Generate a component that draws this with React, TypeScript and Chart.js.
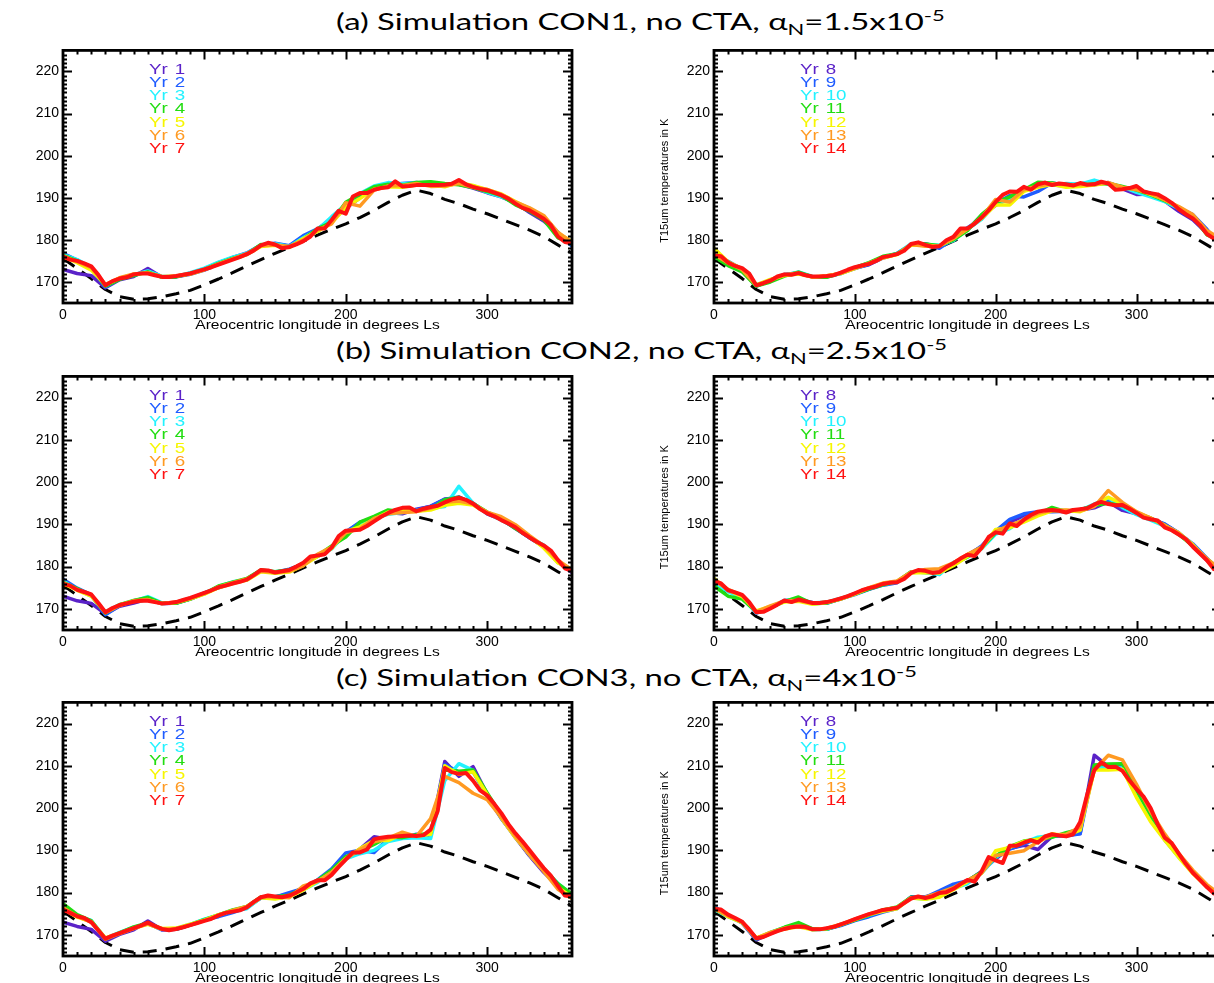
import React, { useEffect, useRef } from "react";
import { Chart, registerables } from "chart.js";
Chart.register(...registerables);

// ---------- axes / categories ----------
const LS10 = [0, 10, 20, 30, 40, 50, 60, 70, 80, 90, 100, 110, 120, 130, 140, 150, 160, 170, 180, 190, 200, 210, 220, 230, 240, 250, 260, 270, 280, 290, 300, 310, 320, 330, 340, 350, 360];
const LS5 = [0, 5, 10, 15, 20, 25, 30, 35, 40, 45, 50, 55, 60, 65, 70, 75, 80, 85, 90, 95, 100, 105, 110, 115, 120, 125, 130, 135, 140, 145, 150, 155, 160, 165, 170, 175, 180, 185, 190, 195, 200, 205, 210, 215, 220, 225, 230, 235, 240, 245, 250, 255, 260, 265, 270, 275, 280, 285, 290, 295, 300, 305, 310, 315, 320, 325, 330, 335, 340, 345, 350, 355, 360];
const X_MIN = 0, X_MAX = 360, Y_MIN = 165, Y_MAX = 225;
const X_TICKS = [0, 100, 200, 300];
const Y_TICKS = [170, 180, 190, 200, 210, 220];
const X_TITLE = "Areocentric longitude in degrees Ls";
const Y_TITLE = "T15um temperatures in K";
const YEARS_LEFT = ["1", "2", "3", "4", "5", "6", "7"];
const YEARS_RIGHT = ["8", "9", "10", "11", "12", "13", "14"];
const COLORS = ["#5a22c8", "#1f5cff", "#22f2ff", "#22dd11", "#f6f600", "#ff9a22", "#ff1212"];

// dashed reference curve (same in every panel)
const CLIM = [175.6, 173.2, 170.8, 168.2, 166.5, 165.9, 166.0, 166.5, 167.2, 168.0, 169.3, 170.7, 172.2, 173.8, 175.3, 176.8, 178.2, 179.7, 181.1, 182.5, 183.8, 185.3, 187.0, 188.9, 190.6, 191.8, 191.0, 189.6, 188.6, 187.3, 186.2, 184.9, 183.6, 182.3, 180.8, 178.8, 176.8];

// ---------- (a) CON1 ----------
const A1_Y1 = [173.0, 172.0, 171.5, 168.6, 170.5, 171.3, 173.2, 171.1, 171.2, 171.8, 172.8, 174.3, 175.6, 176.5, 178.6, 179.0, 178.5, 180.8, 182.0, 184.5, 187.5, 190.0, 192.5, 192.8, 193.2, 193.1, 193.0, 193.3, 193.2, 192.3, 191.2, 190.2, 188.8, 186.5, 184.5, 181.5, 179.0];
const A1_Y2 = [176.8, 175.2, 173.2, 168.8, 170.7, 171.6, 172.5, 171.2, 171.3, 172.1, 173.1, 174.6, 175.8, 176.9, 178.8, 179.2, 178.6, 181.0, 182.6, 185.0, 188.0, 190.6, 192.4, 192.9, 193.4, 193.6, 193.2, 193.0, 193.5, 192.8, 191.6, 190.4, 188.8, 187.3, 185.4, 181.8, 178.5];
const A1_Y3 = [176.5, 175.3, 173.5, 169.0, 170.9, 171.7, 172.6, 171.3, 171.3, 172.2, 173.3, 174.7, 175.9, 176.8, 178.7, 179.1, 178.4, 180.5, 182.4, 185.5, 188.4, 191.0, 192.8, 193.6, 193.3, 193.5, 193.7, 193.0, 193.8, 192.6, 191.3, 190.2, 188.9, 187.5, 185.2, 181.3, 178.9];
const A1_Y4 = [176.3, 175.0, 173.3, 169.0, 170.6, 171.5, 172.4, 171.1, 171.2, 172.0, 173.0, 174.4, 175.6, 176.6, 178.9, 178.8, 178.3, 180.2, 182.6, 184.2, 188.9, 190.8, 192.6, 193.2, 193.0, 193.6, 193.8, 193.4, 193.1, 192.4, 191.5, 190.5, 188.3, 186.8, 184.8, 180.5, 179.3];
const A1_Y5 = [176.0, 174.6, 172.8, 169.3, 170.9, 171.8, 172.2, 171.2, 171.4, 171.9, 172.9, 174.2, 175.4, 176.5, 178.4, 178.7, 178.2, 180.3, 182.0, 184.0, 187.8, 189.8, 192.0, 192.6, 192.5, 193.0, 193.1, 192.6, 193.6, 192.9, 191.9, 190.9, 189.1, 187.4, 185.6, 181.6, 179.6];
const A1_Y6 = [176.2, 174.8, 173.4, 169.4, 171.0, 171.9, 172.1, 171.3, 171.4, 172.0, 173.0, 174.3, 175.5, 176.7, 178.6, 178.8, 178.4, 180.0, 182.3, 183.8, 188.8, 188.0, 191.8, 192.8, 192.9, 193.4, 192.7, 192.8, 193.4, 192.5, 192.0, 190.8, 189.0, 187.6, 185.8, 181.8, 179.4];
const A1_Y7 = [
  176, 175.3, 175, 174.4, 173.7, 171.7, 169.2, 170.2, 170.8, 171.1,
  171.8, 172, 172, 171.6, 171.2, 171.2, 171.4, 171.7, 172, 172.5,
  173, 173.5, 174.1, 174.7, 175.3, 175.9, 176.6, 177.5, 178.7, 179.3,
  178.9, 178, 178.3, 178.9, 179.7, 180.8, 182.7, 182.7, 184.7, 186.9,
  186.2, 190.3, 191.1, 191.1, 191.9, 192.3, 192.5, 193.9, 192.7, 192.8,
  193, 193, 193, 193, 193.1, 193.3, 194.2, 193.2, 192.6, 192.1,
  191.8, 191.2, 190.6, 189.8, 188.6, 187.6, 187, 186, 185, 183.5,
  180.8, 179.5, 179.2];

const A2_Y8 = [176.0, 174.7, 172.8, 169.0, 170.4, 171.6, 172.0, 171.2, 171.2, 172.0, 173.3, 174.1, 175.7, 176.6, 178.8, 179.1, 178.3, 180.4, 182.5, 185.8, 188.2, 190.0, 191.6, 193.3, 193.0, 192.8, 193.3, 193.5, 193.4, 192.1, 190.8, 190.9, 189.2, 186.8, 184.8, 181.6, 179.0];
const A2_Y9 = [176.5, 174.9, 173.0, 169.1, 170.5, 171.8, 172.2, 171.2, 171.3, 172.1, 173.2, 174.2, 175.8, 176.8, 178.9, 179.0, 178.0, 180.2, 182.9, 185.0, 188.6, 190.5, 190.2, 191.5, 193.5, 193.0, 193.2, 193.1, 193.6, 192.4, 191.6, 191.1, 189.5, 187.6, 186.0, 182.5, 178.2];
const A2_Y10 = [175.9, 174.4, 172.7, 169.4, 170.3, 171.5, 172.4, 171.3, 171.2, 172.0, 173.4, 174.5, 175.9, 176.7, 179.1, 178.9, 178.7, 179.8, 182.5, 184.9, 188.6, 189.5, 191.8, 192.9, 193.0, 193.4, 193.2, 194.2, 193.2, 192.6, 191.3, 190.2, 189.1, 187.4, 185.4, 181.9, 179.2];
const A2_Y11 = [176.0, 173.9, 172.4, 169.0, 170.0, 171.4, 172.3, 171.2, 171.1, 172.1, 173.4, 174.6, 176.1, 176.7, 178.8, 179.0, 178.6, 180.0, 182.2, 186.0, 188.8, 190.2, 191.9, 193.7, 193.5, 192.9, 193.0, 193.3, 193.4, 192.7, 191.8, 190.7, 189.3, 187.8, 185.6, 181.2, 179.8];
const A2_Y12 = [178.0, 174.8, 173.1, 169.3, 170.6, 171.5, 171.9, 171.2, 171.5, 172.0, 173.2, 174.4, 175.7, 176.5, 178.7, 178.7, 178.5, 180.4, 182.6, 185.1, 188.3, 188.3, 191.5, 192.5, 193.2, 192.5, 192.7, 193.0, 193.5, 192.4, 192.1, 190.8, 189.6, 187.6, 185.8, 182.0, 180.2];
const A2_Y13 = [176.5, 174.5, 172.9, 169.2, 170.4, 171.7, 172.1, 171.1, 171.4, 172.1, 173.3, 174.4, 175.8, 176.6, 178.9, 178.5, 178.6, 180.3, 182.6, 185.3, 189.6, 189.0, 191.9, 192.8, 193.3, 193.1, 193.1, 193.2, 193.6, 192.5, 191.9, 191.0, 189.5, 187.9, 186.0, 182.2, 180.2];
const A2_Y14 = [
  176.3, 176.1, 174.6, 173.8, 173.3, 172, 169.2, 169.7, 170.3, 171.3,
  171.8, 171.7, 172.1, 171.6, 171.3, 171.3, 171.4, 171.6, 172.2, 172.9,
  173.5, 173.9, 174.3, 175, 175.9, 176.2, 176.6, 177.4, 179, 179.4,
  178.8, 178.3, 178.5, 179.9, 180.7, 182.7, 182.7, 183.8, 185.3, 187,
  189, 190.7, 191.5, 191.4, 192.6, 191.9, 193.2, 193.6, 193, 193.4,
  193.2, 192.9, 193.5, 193.1, 193.2, 193.8, 193.4, 191.9, 192, 192.3,
  192.8, 191.5, 191.1, 190.8, 189.9, 188.8, 187.3, 186.1, 185.1, 183.5,
  181.4, 180.3, 179.5];

// ---------- (b) CON2 ----------
const B1_Y1 = [173.0, 171.9, 171.3, 168.8, 170.6, 171.4, 172.3, 171.2, 171.4, 172.3, 173.7, 175.0, 176.2, 177.0, 179.1, 178.5, 179.0, 180.7, 182.4, 184.4, 188.1, 190.4, 191.3, 192.8, 192.5, 193.6, 194.2, 196.0, 196.3, 195.0, 192.6, 191.2, 189.0, 186.8, 184.7, 181.2, 178.6];
const B1_Y2 = [177.0, 174.9, 173.3, 168.6, 170.8, 171.9, 172.6, 171.3, 171.4, 172.4, 173.8, 175.1, 176.1, 177.1, 179.0, 178.7, 179.4, 180.6, 182.8, 184.3, 188.2, 190.5, 191.5, 192.6, 192.9, 193.4, 194.3, 195.9, 196.5, 194.9, 192.5, 191.1, 189.2, 186.8, 184.8, 181.4, 178.9];
const B1_Y3 = [176.6, 174.6, 173.0, 169.3, 171.0, 171.8, 172.9, 171.4, 171.5, 172.5, 173.6, 175.3, 176.4, 176.8, 179.0, 178.8, 179.1, 180.5, 182.5, 184.2, 187.9, 189.9, 191.5, 192.4, 192.8, 193.3, 193.8, 194.2, 199.0, 195.0, 192.8, 191.0, 189.3, 186.9, 185.1, 181.3, 179.0];
const B1_Y4 = [176.3, 174.8, 173.1, 169.0, 171.0, 172.0, 172.7, 171.3, 171.3, 172.3, 173.6, 175.4, 176.3, 177.2, 179.2, 178.8, 179.2, 180.8, 182.6, 184.9, 187.0, 190.5, 191.9, 193.4, 193.0, 193.2, 193.6, 195.8, 196.4, 194.9, 192.9, 191.3, 189.0, 187.0, 184.7, 181.0, 179.3];
const B1_Y5 = [176.0, 174.4, 173.0, 169.2, 170.9, 171.8, 172.1, 171.3, 171.5, 172.4, 173.5, 175.0, 176.0, 176.8, 178.8, 178.4, 178.7, 180.3, 182.4, 184.3, 188.3, 189.4, 191.2, 192.9, 193.2, 193.1, 193.4, 194.5, 195.0, 194.6, 192.7, 191.5, 189.6, 187.1, 184.4, 180.9, 179.1];
const B1_Y6 = [176.2, 174.6, 173.3, 169.1, 170.8, 171.9, 172.2, 171.2, 171.6, 172.5, 173.6, 175.2, 176.2, 177.1, 178.9, 178.6, 178.9, 180.2, 182.9, 184.6, 188.0, 189.0, 191.4, 192.5, 192.8, 193.0, 193.8, 195.2, 195.5, 194.8, 192.9, 191.8, 189.9, 187.3, 184.9, 181.5, 179.2];
const B1_Y7 = [
  175.9, 175.5, 174.5, 174, 173.4, 171.4, 169.2, 170.2, 170.9, 171.3,
  171.7, 171.9, 171.9, 171.6, 171.3, 171.4, 171.6, 172.1, 172.6, 173.2,
  173.8, 174.4, 175.1, 175.5, 176, 176.4, 176.9, 178, 179.2, 179.1,
  178.6, 178.9, 179.2, 180, 180.9, 182.4, 182.6, 182.9, 184.5, 187.2,
  188.5, 188.6, 188.7, 189.6, 190.7, 191.8, 192.7, 193.4, 193.9, 194,
  193.1, 193.7, 194.1, 194.4, 195.2, 195.9, 196.3, 195.8, 194.9, 193.6,
  192.6, 191.9, 191, 190.2, 189.3, 188, 186.9, 185.9, 185, 183.8,
  181.6, 179.6, 179];

const B2_Y8 = [176.2, 174.2, 172.8, 169.3, 170.4, 171.8, 172.0, 171.3, 171.5, 172.3, 173.6, 174.7, 175.8, 176.4, 178.6, 178.8, 178.4, 180.6, 182.8, 184.7, 188.2, 190.5, 192.0, 192.6, 193.3, 193.0, 193.3, 193.9, 195.3, 193.3, 192.5, 191.5, 190.0, 188.0, 184.9, 181.5, 178.9];
const B2_Y9 = [176.4, 174.5, 173.1, 169.0, 170.2, 172.0, 172.1, 171.5, 171.3, 172.4, 173.4, 174.6, 175.6, 176.2, 178.7, 178.9, 178.3, 180.9, 182.5, 184.9, 188.4, 191.2, 192.5, 193.0, 193.0, 193.1, 193.5, 194.3, 195.6, 193.8, 192.7, 191.3, 190.1, 187.9, 185.4, 182.0, 178.6];
const B2_Y10 = [175.8, 174.1, 172.6, 169.1, 170.5, 171.9, 172.5, 171.4, 171.6, 172.5, 173.6, 174.8, 175.7, 176.4, 178.8, 178.6, 178.1, 181.0, 182.2, 184.2, 187.7, 189.0, 191.3, 192.7, 193.5, 193.2, 193.3, 194.8, 196.3, 194.0, 192.3, 191.0, 189.6, 187.7, 185.1, 181.8, 179.2];
const B2_Y11 = [175.4, 173.0, 172.3, 169.4, 170.3, 171.7, 172.8, 171.2, 171.4, 172.4, 173.5, 174.7, 175.7, 176.5, 178.8, 178.6, 178.6, 180.6, 182.3, 184.5, 188.0, 189.7, 190.8, 192.4, 194.0, 193.0, 193.4, 194.5, 195.0, 194.4, 192.8, 191.4, 189.8, 187.6, 184.9, 181.7, 179.0];
const B2_Y12 = [177.2, 174.4, 172.9, 169.5, 170.6, 171.6, 171.8, 171.1, 171.5, 172.3, 173.5, 174.9, 176.0, 176.5, 178.5, 178.6, 178.5, 180.2, 182.4, 184.3, 188.8, 189.2, 190.5, 192.0, 193.2, 193.3, 193.0, 194.4, 196.4, 194.9, 192.9, 191.5, 189.7, 188.0, 185.2, 181.6, 179.3];
const B2_Y13 = [176.8, 174.6, 173.2, 169.3, 170.7, 171.9, 172.0, 171.3, 171.6, 172.4, 173.6, 175.0, 176.1, 176.6, 178.7, 179.3, 179.5, 180.9, 182.9, 184.6, 188.3, 189.8, 191.0, 192.6, 193.3, 193.4, 193.2, 194.2, 198.0, 195.2, 193.0, 191.5, 189.8, 187.9, 185.0, 181.9, 179.2];
const B2_Y14 = [
  176.6, 176, 174.4, 173.9, 173.3, 171.6, 169.2, 169.3, 170.1, 171,
  172, 171.6, 172.2, 171.8, 171.4, 171.4, 171.6, 172, 172.5, 173,
  173.7, 174.4, 174.9, 175.3, 175.9, 176.2, 176.3, 177.1, 178.5, 179.2,
  179, 178.5, 178.7, 179.9, 180.8, 181.9, 182.8, 182.5, 184.4, 187,
  188.1, 187.8, 190.2, 189.6, 191.1, 192.2, 193, 193.3, 193.4, 193.2,
  192.8, 193.4, 193.6, 193.8, 194.7, 195.3, 194.8, 194.5, 194.6, 193.7,
  192.7, 191.6, 191.2, 190.9, 189.3, 188.6, 187.6, 186.5, 184.7, 183.1,
  181.5, 179.4, 178.8];

// ---------- (c) CON3 ----------
const C1_Y1 = [173.0, 172.0, 171.3, 168.5, 170.1, 171.2, 173.3, 171.2, 171.3, 172.3, 173.5, 174.6, 175.7, 176.5, 178.9, 179.0, 179.6, 181.1, 182.8, 184.5, 188.2, 190.3, 193.2, 192.6, 193.3, 193.6, 193.6, 211.0, 207.5, 209.8, 203.3, 197.6, 193.0, 188.7, 184.8, 181.5, 179.2];
const C1_Y2 = [176.8, 174.6, 173.2, 168.9, 170.4, 171.6, 172.7, 171.2, 171.3, 172.4, 173.6, 174.3, 175.3, 176.4, 178.7, 178.9, 180.0, 181.0, 183.0, 185.6, 189.4, 190.0, 189.5, 192.8, 193.0, 193.8, 193.5, 210.3, 208.5, 208.6, 202.7, 197.5, 193.3, 188.8, 185.2, 181.7, 179.0];
const C1_Y3 = [176.3, 174.5, 173.4, 169.2, 170.6, 171.8, 172.6, 171.3, 171.5, 172.5, 173.7, 174.7, 175.8, 176.2, 178.8, 178.6, 179.3, 180.7, 182.4, 185.0, 188.0, 189.2, 190.0, 192.1, 192.8, 193.0, 192.8, 206.5, 210.5, 208.9, 202.9, 197.9, 193.6, 189.0, 185.5, 182.2, 179.5];
const C1_Y4 = [177.4, 174.8, 173.3, 169.0, 170.5, 171.9, 172.8, 171.4, 171.4, 172.4, 173.6, 174.7, 175.9, 176.7, 179.0, 179.0, 179.4, 181.0, 182.9, 185.3, 188.5, 189.8, 191.4, 193.2, 193.0, 193.7, 194.0, 209.0, 208.7, 209.0, 203.6, 198.4, 193.4, 189.3, 185.7, 182.1, 179.6];
const C1_Y5 = [176.1, 174.2, 173.1, 169.3, 170.4, 171.6, 172.5, 171.5, 171.6, 172.5, 173.5, 174.8, 175.7, 176.6, 178.8, 178.5, 179.0, 180.6, 182.7, 184.7, 188.0, 190.4, 192.3, 192.3, 193.9, 193.3, 193.8, 210.0, 208.0, 208.6, 203.2, 197.6, 193.0, 189.0, 185.2, 181.2, 179.0];
const C1_Y6 = [176.4, 174.4, 173.0, 169.0, 170.3, 171.5, 172.6, 171.3, 171.5, 172.3, 173.4, 174.6, 175.8, 176.7, 178.9, 179.0, 178.8, 181.6, 182.6, 184.8, 188.0, 190.2, 192.0, 192.9, 194.3, 193.3, 197.5, 207.5, 206.0, 203.5, 202.0, 197.8, 193.3, 188.9, 185.0, 180.8, 178.6];
const C1_Y7 = [
  176, 175.2, 174.4, 174, 173, 171.1, 169.1, 169.8, 170.4, 171,
  171.6, 172.2, 172.9, 172.1, 171.4, 171.1, 171.4, 171.8, 172.3, 172.8,
  173.3, 173.8, 174.6, 175.2, 175.5, 175.8, 176.5, 177.8, 178.9, 179.3,
  179.1, 178.9, 179.3, 180, 180.9, 182.2, 182.9, 182.9, 184.2, 186.1,
  187.8, 189.5, 189.5, 190.2, 192.6, 193, 193.2, 193.3, 193.4, 193.5,
  193.4, 193.6, 194.9, 199.3, 209.5, 208.5, 208.1, 208.3, 206.5, 204.2,
  203, 201, 198.8, 196.2, 194, 192.1, 190, 187.9, 185.8, 184,
  181.6, 179.3, 179.1];

const C2_Y8 = [176.4, 174.6, 172.8, 168.8, 170.3, 171.6, 172.3, 171.3, 171.3, 172.3, 173.5, 174.6, 175.6, 176.4, 178.9, 179.0, 179.6, 181.4, 182.7, 185.0, 188.0, 190.4, 191.2, 190.2, 193.3, 193.6, 194.0, 212.5, 209.8, 210.4, 204.0, 198.1, 192.8, 188.7, 184.8, 181.3, 178.8];
const C2_Y9 = [176.8, 174.5, 173.0, 169.0, 170.4, 171.5, 172.4, 171.4, 171.4, 172.2, 173.4, 174.3, 175.4, 176.2, 179.0, 178.9, 180.4, 182.0, 182.8, 184.8, 188.4, 190.3, 191.5, 192.8, 193.4, 193.4, 193.9, 210.0, 209.5, 210.0, 203.5, 197.5, 192.5, 188.5, 184.7, 181.5, 179.0];
const C2_Y10 = [176.0, 174.3, 172.9, 169.1, 170.6, 171.7, 172.6, 171.2, 171.3, 172.5, 173.6, 174.6, 175.8, 176.5, 178.8, 178.4, 179.5, 181.0, 182.1, 184.6, 188.3, 190.8, 191.8, 193.1, 193.5, 193.5, 195.2, 209.5, 209.6, 209.5, 203.3, 197.3, 192.6, 188.4, 184.9, 181.6, 179.2];
const C2_Y11 = [176.2, 174.4, 173.1, 169.1, 170.5, 171.8, 172.9, 171.4, 171.4, 172.4, 173.5, 174.7, 175.9, 176.6, 178.9, 178.6, 179.8, 181.1, 182.8, 184.9, 188.6, 190.9, 192.2, 192.6, 193.1, 194.2, 195.0, 210.2, 210.4, 210.5, 204.3, 198.3, 193.4, 189.0, 185.0, 181.7, 179.0];
const C2_Y12 = [176.5, 174.3, 172.9, 169.3, 170.5, 171.4, 171.9, 171.2, 171.5, 172.4, 173.6, 174.8, 175.6, 176.2, 178.7, 178.4, 178.9, 180.7, 182.6, 184.6, 189.9, 190.7, 192.1, 192.6, 193.9, 193.4, 194.8, 209.0, 209.0, 209.2, 202.5, 196.8, 192.4, 188.3, 184.5, 181.3, 179.2];
const C2_Y13 = [176.2, 174.5, 173.0, 169.2, 170.6, 171.6, 172.1, 171.3, 171.5, 172.5, 173.7, 174.9, 175.9, 176.5, 178.8, 178.9, 180.0, 181.2, 182.9, 184.6, 188.8, 189.3, 189.9, 192.0, 193.6, 193.8, 195.5, 209.0, 212.5, 211.4, 205.6, 199.2, 193.9, 189.3, 185.3, 181.9, 179.4];
const C2_Y14 = [
  176.1, 176, 174.8, 174, 173.1, 171.3, 169.2, 169.5, 170.2, 170.9,
  171.4, 171.8, 172, 171.9, 171.3, 171.3, 171.6, 171.9, 172.5, 173.1,
  173.7, 174.3, 174.9, 175.4, 175.9, 176.1, 176.4, 177.5, 178.6, 179.1,
  178.7, 179.1, 179.9, 180.1, 180.9, 182, 183, 182.6, 185, 188.4,
  187.6, 187, 191.1, 191.1, 191.8, 192.4, 191.8, 193.3, 193.8, 193.5,
  193.3, 193.8, 196.7, 203.2, 209, 210.8, 209.7, 209.8, 208.8, 206.5,
  204.5, 202.7, 200, 196.2, 193, 191.7, 189.2, 186.8, 184.7, 183,
  181.3, 179.8, 179];

// ---------- layout ----------
const FONT = '"Liberation Sans", Arial, Helvetica, sans-serif';
const PAD_L = 70, PAD_T = 6, PAD_R = 6, PAD_B = 36;

type PanelDef = {
  rect: [number, number, number, number]; // plot-area left, top, right, bottom
  years: string[];
  series: number[][];
  last: number[];
  yTitle: boolean;
};

const ROWS = [[44, 303], [370, 630], [696, 956]];
const LEFT_X = [63, 572];
const RIGHT_X = [714, 1221];

const PANELS: PanelDef[] = [
  { rect: [LEFT_X[0], ROWS[0][0], LEFT_X[1], ROWS[0][1]], years: YEARS_LEFT, series: [A1_Y1, A1_Y2, A1_Y3, A1_Y4, A1_Y5, A1_Y6], last: A1_Y7, yTitle: false },
  { rect: [RIGHT_X[0], ROWS[0][0], RIGHT_X[1], ROWS[0][1]], years: YEARS_RIGHT, series: [A2_Y8, A2_Y9, A2_Y10, A2_Y11, A2_Y12, A2_Y13], last: A2_Y14, yTitle: true },
  { rect: [LEFT_X[0], ROWS[1][0], LEFT_X[1], ROWS[1][1]], years: YEARS_LEFT, series: [B1_Y1, B1_Y2, B1_Y3, B1_Y4, B1_Y5, B1_Y6], last: B1_Y7, yTitle: false },
  { rect: [RIGHT_X[0], ROWS[1][0], RIGHT_X[1], ROWS[1][1]], years: YEARS_RIGHT, series: [B2_Y8, B2_Y9, B2_Y10, B2_Y11, B2_Y12, B2_Y13], last: B2_Y14, yTitle: true },
  { rect: [LEFT_X[0], ROWS[2][0], LEFT_X[1], ROWS[2][1]], years: YEARS_LEFT, series: [C1_Y1, C1_Y2, C1_Y3, C1_Y4, C1_Y5, C1_Y6], last: C1_Y7, yTitle: false },
  { rect: [RIGHT_X[0], ROWS[2][0], RIGHT_X[1], ROWS[2][1]], years: YEARS_RIGHT, series: [C2_Y8, C2_Y9, C2_Y10, C2_Y11, C2_Y12, C2_Y13], last: C2_Y14, yTitle: true },
];

const TITLES = [
  { tag: "(a) Simulation CON1, no CTA, α", val: "1.5x10", y: 6 },
  { tag: "(b) Simulation CON2, no CTA, α", val: "2.5x10", y: 335 },
  { tag: "(c) Simulation CON3, no CTA, α", val: "4x10", y: 662 },
];

const toXY = (xs: number[], ys: number[]) => ys.map((v, i) => ({ x: xs[i], y: v }));

function Panel({ def }: { def: PanelDef }) {
  const ref = useRef<HTMLCanvasElement>(null);
  const [L, T, R, B] = def.rect;
  const w = R - L + PAD_L + PAD_R;
  const h = B - T + PAD_T + PAD_B;

  useEffect(() => {
    const canvas = ref.current;
    if (!canvas) return;
    const framePlugin = {
      id: "idlFrame",
      afterDraw(chart: any) {
        const { ctx, chartArea: a, scales } = chart;
        const xs = scales.x, ys = scales.y;
        ctx.save();
        ctx.strokeStyle = "#000";
        ctx.lineWidth = 2.8;
        ctx.strokeRect(a.left, a.top, a.right - a.left, a.bottom - a.top);
        ctx.lineWidth = 2;
        ctx.beginPath();
        for (let v = Y_MIN + 1; v < Y_MAX; v++) {
          const py = Math.round(ys.getPixelForValue(v)) + 0.5;
          const len = v % 10 === 0 ? 9 : 4;
          ctx.moveTo(a.left, py); ctx.lineTo(a.left + len, py);
          ctx.moveTo(a.right, py); ctx.lineTo(a.right - len, py);
        }
        for (let v = X_MIN + 10; v < X_MAX; v += 10) {
          const px = Math.round(xs.getPixelForValue(v)) + 0.5;
          const len = v % 100 === 0 ? 9 : 4;
          ctx.moveTo(px, a.bottom); ctx.lineTo(px, a.bottom - len);
          ctx.moveTo(px, a.top); ctx.lineTo(px, a.top + len);
        }
        ctx.stroke();

        // legend
        ctx.textBaseline = "middle";
        ctx.textAlign = "left";
        ctx.font = `15px ${FONT}`;
        def.years.forEach((num, i) => {
          ctx.save();
          ctx.fillStyle = COLORS[i];
          ctx.translate(a.left + 86, a.top + 19 + i * 13.3);
          ctx.scale(1.25, 1);
          ctx.fillText("Yr", 0, 0);
          ctx.fillText(num, 20.5, 0);
          ctx.restore();
        });

        // x title
        ctx.save();
        ctx.fillStyle = "#000";
        ctx.font = `13px ${FONT}`;
        ctx.textAlign = "center";
        ctx.translate((a.left + a.right) / 2, a.bottom + 22);
        ctx.scale(1.2, 1);
        ctx.fillText(X_TITLE, 0, 0);
        ctx.restore();

        // y title
        if (def.yTitle) {
          ctx.save();
          ctx.fillStyle = "#000";
          ctx.font = `11px ${FONT}`;
          ctx.textAlign = "center";
          ctx.translate(a.left - 49, (a.top + a.bottom) / 2 + 4);
          ctx.rotate(-Math.PI / 2);
          ctx.fillText(Y_TITLE, 0, 0);
          ctx.restore();
        }
        ctx.restore();
      },
    };

    const datasets: any[] = [
      { data: toXY(LS10, CLIM), borderColor: "#000", borderWidth: 3, borderDash: [14, 9], order: 9 },
      ...def.series.map((ys, i) => ({ data: toXY(LS10, ys), borderColor: COLORS[i], borderWidth: 3.5, order: 7 - i })),
      { data: toXY(LS5, def.last), borderColor: COLORS[6], borderWidth: 4, order: 0 },
    ];

    const tickFont = { family: FONT, size: 14 };
    const chart = new Chart(canvas, {
      type: "line",
      data: { datasets },
      plugins: [framePlugin],
      options: {
        responsive: false,
        maintainAspectRatio: false,
        animation: false,
        events: [],
        layout: { padding: { left: 0, top: PAD_T, right: PAD_R, bottom: 0 } },
        elements: { point: { radius: 0 }, line: { tension: 0, borderJoinStyle: "round", fill: false } },
        plugins: { legend: { display: false }, tooltip: { enabled: false } },
        scales: {
          x: {
            type: "linear", min: X_MIN, max: X_MAX,
            grid: { display: false, drawTicks: false }, border: { display: false },
            ticks: { padding: 4, maxRotation: 0, autoSkip: false, color: "#000", font: tickFont },
            afterBuildTicks: (s: any) => { s.ticks = X_TICKS.map((v) => ({ value: v })); },
            afterFit: (s: any) => { s.height = PAD_B; },
          },
          y: {
            type: "linear", min: Y_MIN, max: Y_MAX,
            grid: { display: false, drawTicks: false }, border: { display: false },
            ticks: { padding: 4, autoSkip: false, color: "#000", font: tickFont },
            afterBuildTicks: (s: any) => { s.ticks = Y_TICKS.map((v) => ({ value: v })); },
            afterFit: (s: any) => { s.width = PAD_L; },
          },
        },
      } as any,
    });
    return () => chart.destroy();
  }, []);

  return (
    <canvas
      ref={ref}
      width={w}
      height={h}
      style={{ position: "absolute", left: L - PAD_L, top: T - PAD_T, width: w, height: h }}
    />
  );
}

export default function App() {
  return (
    <div style={{ position: "fixed", left: 0, top: 0, width: 1214, height: 983, overflow: "hidden", background: "#fff" }}>
      {TITLES.map((t, i) => (
        <div
          key={i}
          style={{
            position: "absolute", left: 336, top: t.y, height: 30, lineHeight: "30px",
            fontFamily: 'Lato, "Open Sans", "Noto Sans", sans-serif', fontSize: 24, color: "#000",
            whiteSpace: "nowrap", transform: "scaleX(1.37)", transformOrigin: "0 50%",
          }}
        >
          {t.tag}
          <span style={{ fontSize: 16, position: "relative", top: 5 }}>N</span>
          ={t.val}
          <span style={{ fontSize: 16, position: "relative", top: -9 }}>-5</span>
        </div>
      ))}
      {PANELS.map((p, i) => (
        <Panel key={i} def={p} />
      ))}
    </div>
  );
}
